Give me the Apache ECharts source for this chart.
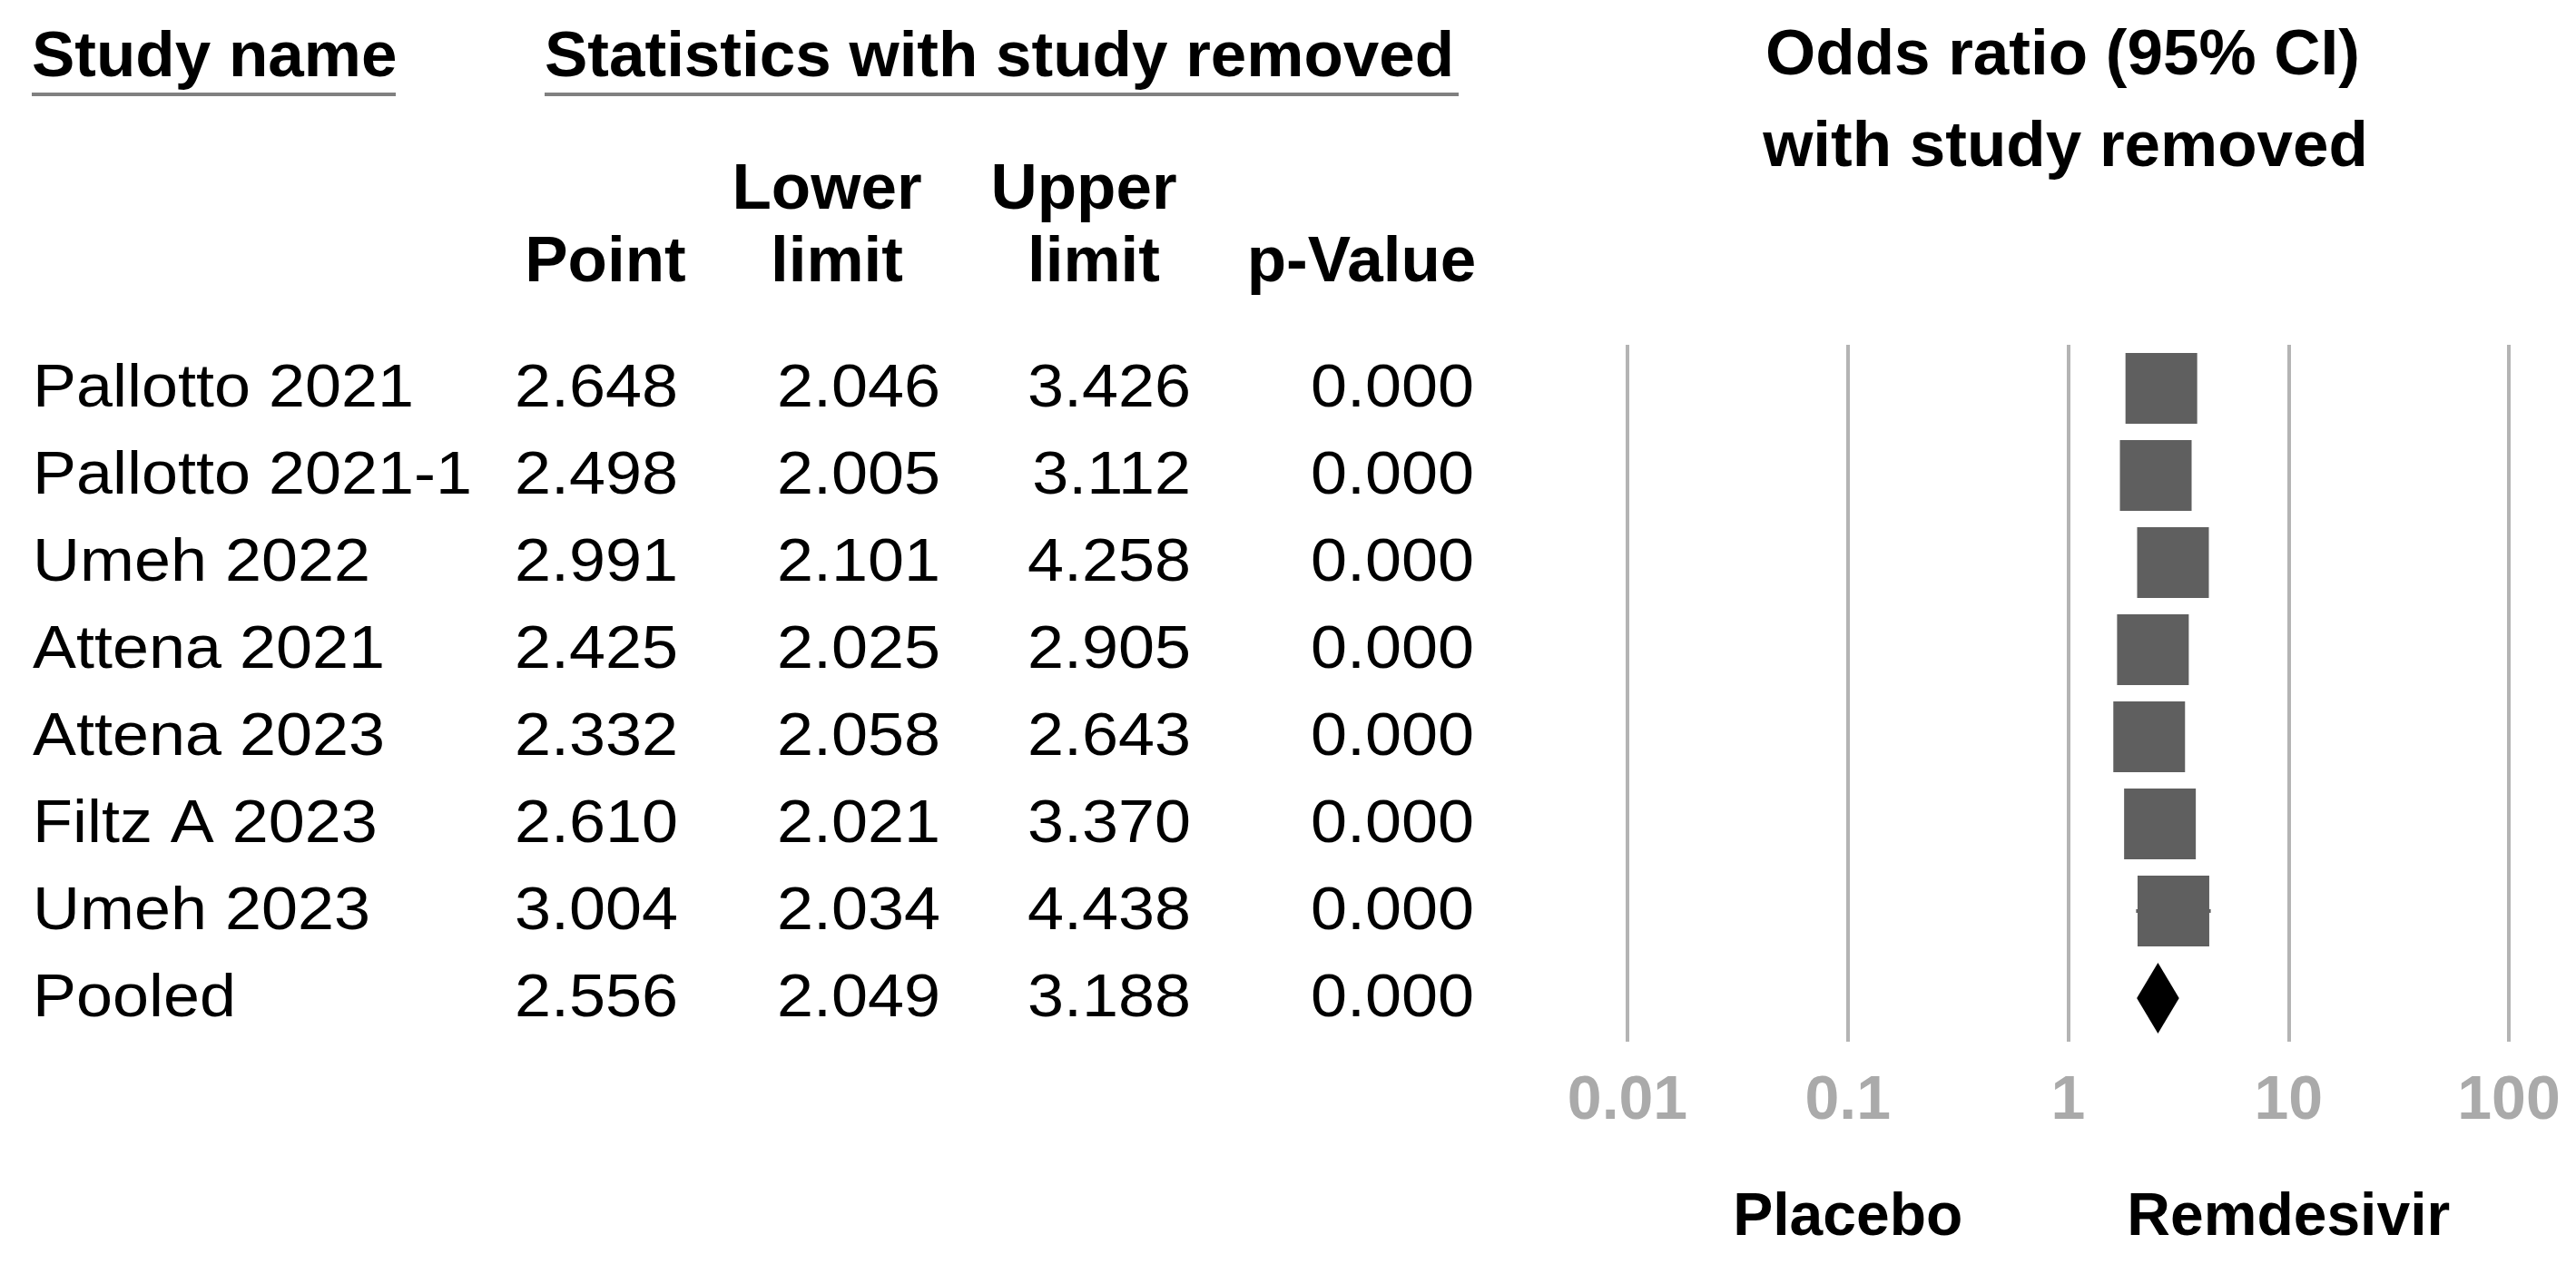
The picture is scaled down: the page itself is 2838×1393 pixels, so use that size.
<!DOCTYPE html>
<html>
<head>
<meta charset="utf-8">
<script src="https://cdn.jsdelivr.net/npm/echarts@6/dist/echarts.min.js"></script>
<style>
  html, body { margin: 0; padding: 0; background: #ffffff; }
  #chart { width: 2838px; height: 1393px; }
</style>
</head>
<body>
<div id="chart"></div>
<script>
// ---------------- data ----------------
const studies = ['Pallotto 2021', 'Pallotto 2021-1', 'Umeh 2022', 'Attena 2021', 'Attena 2023', 'Filtz A 2023', 'Umeh 2023', 'Pooled'];
const pointEst = [2.648, 2.498, 2.991, 2.425, 2.332, 2.610, 3.004, 2.556];
const lowerLimit = [2.046, 2.005, 2.101, 2.025, 2.058, 2.021, 2.034, 2.049];
const upperLimit = [3.426, 3.112, 4.258, 2.905, 2.643, 3.370, 4.438, 3.188];
const pValue = [0.000, 0.000, 0.000, 0.000, 0.000, 0.000, 0.000, 0.000];
const xTickLabels = ['0.01', '0.1', '1', '10', '100'];
const favoursLabels = ['Placebo', 'Remdesivir'];
const favoursAt = [0.1, 10];
const headerTitles = ['Study name', 'Statistics with study removed'];
const plotTitle = ['Odds ratio (95% CI)', 'with study removed'];
const colHeadTop = ['Lower', 'Upper'];
const colHeadBottom = ['Point', 'limit', 'limit', 'p-Value'];

// ---------------- chart ----------------
const FONT = '"Liberation Sans", Arial, Helvetica, sans-serif';
const nRows = studies.length;
const pooledIdx = nRows - 1;

const ciData = [];
const sqData = [];
for (let i = 0; i < pooledIdx; i++) {
  ciData.push([lowerLimit[i], upperLimit[i], i, pointEst[i]]);
  sqData.push([pointEst[i], i]);
}
const diamondData = [[lowerLimit[pooledIdx], upperLimit[pooledIdx], pooledIdx, pointEst[pooledIdx]]];

const chart = echarts.init(document.getElementById('chart'), null, { renderer: 'canvas' });

const option = {
  animation: false,
  backgroundColor: '#ffffff',
  grid: { left: 1793, right: 74, top: 380, height: 768, containLabel: false },
  xAxis: {
    type: 'log',
    logBase: 10,
    min: 0.01,
    max: 100,
    axisLine: { show: false },
    axisTick: { show: false },
    splitLine: { show: true, showMinLine: true, showMaxLine: true, lineStyle: { color: '#b4b4b4', width: 4 } },
    axisLabel: {
      show: true,
      margin: 32,
      color: '#aaaaaa',
      fontSize: 68,
      fontWeight: 'bold',
      fontFamily: FONT,
      formatter: function (v) { return xTickLabels[Math.round(Math.log10(v)) + 2]; }
    }
  },
  yAxis: {
    type: 'value',
    inverse: true,
    min: -0.5,
    max: nRows - 0.5,
    show: false,
    splitLine: { show: false }
  },
  series: [
    {
      type: 'custom',
      name: 'ci',
      data: ciData,
      encode: { x: [0, 1, 3], y: 2 },
      renderItem: function (params, api) {
        const p1 = api.coord([api.value(0), api.value(2)]);
        const p2 = api.coord([api.value(1), api.value(2)]);
        return {
          type: 'line',
          shape: { x1: p1[0], y1: p1[1], x2: p2[0], y2: p2[1] },
          style: { stroke: '#5f5f5f', lineWidth: 4 }
        };
      },
      z: 2
    },
    {
      type: 'scatter',
      name: 'point',
      data: sqData,
      symbol: 'rect',
      symbolSize: [79, 78],
      itemStyle: { color: '#5f5f5f', opacity: 1 },
      z: 3
    },
    {
      type: 'custom',
      name: 'pooled',
      data: diamondData,
      encode: { x: [0, 1, 3], y: 2 },
      renderItem: function (params, api) {
        const lo = api.coord([api.value(0), api.value(2)]);
        const hi = api.coord([api.value(1), api.value(2)]);
        const mid = api.coord([api.value(3), api.value(2)]);
        const h = 39;
        return {
          type: 'polygon',
          shape: { points: [[lo[0], lo[1]], [mid[0], mid[1] - h], [hi[0], hi[1]], [mid[0], mid[1] + h]] },
          style: { fill: '#000000' }
        };
      },
      z: 3
    }
  ]
};

chart.setOption(option);

// ---------------- table text (graphic) ----------------
const graphics = [];
const REG = 66, REG_SX = 1.09, BOLD = 71;
function txt(text, x, y, align, opts) {
  opts = opts || {};
  graphics.push({
    type: 'text',
    x: x, y: y,
    scaleX: opts.scaleX || 1,
    silent: true,
    style: {
      text: text,
      fill: opts.fill || '#000000',
      fontSize: opts.size || REG,
      fontWeight: opts.bold ? 'bold' : 'normal',
      fontFamily: FONT,
      align: align,
      verticalAlign: 'middle'
    }
  });
}
function hline(x1, x2, y) {
  graphics.push({
    type: 'line', silent: true,
    shape: { x1: x1, y1: y, x2: x2, y2: y },
    style: { stroke: '#808080', lineWidth: 4 }
  });
}

// headers
txt(headerTitles[0], 35, 64, 'left', { bold: true, size: BOLD });
hline(35, 436, 104);
txt(headerTitles[1], 600, 64, 'left', { bold: true, size: BOLD });
hline(600, 1607, 104);

txt(colHeadTop[0], 911, 210, 'center', { bold: true, size: BOLD });
txt(colHeadTop[1], 1194, 210, 'center', { bold: true, size: BOLD });
txt(colHeadBottom[0], 667, 290, 'center', { bold: true, size: BOLD });
txt(colHeadBottom[1], 922, 290, 'center', { bold: true, size: BOLD });
txt(colHeadBottom[2], 1205, 290, 'center', { bold: true, size: BOLD });
txt(colHeadBottom[3], 1500, 290, 'center', { bold: true, size: BOLD });

const centerOne = chart.convertToPixel({ xAxisIndex: 0 }, 1);
txt(plotTitle[0], centerOne - 6, 62, 'center', { bold: true, size: BOLD });
txt(plotTitle[1], centerOne - 3, 163, 'center', { bold: true, size: BOLD });

// rows
const colRight = [747, 1036, 1312, 1624];
for (let i = 0; i < nRows; i++) {
  const y = chart.convertToPixel({ yAxisIndex: 0 }, i) + 2;
  txt(studies[i], 36, y, 'left', { scaleX: REG_SX });
  txt(pointEst[i].toFixed(3), colRight[0], y, 'right', { scaleX: REG_SX });
  txt(lowerLimit[i].toFixed(3), colRight[1], y, 'right', { scaleX: REG_SX });
  txt(upperLimit[i].toFixed(3), colRight[2], y, 'right', { scaleX: REG_SX });
  txt(pValue[i].toFixed(3), colRight[3], y, 'right', { scaleX: REG_SX });
}

// favours labels
for (let k = 0; k < favoursLabels.length; k++) {
  const x = chart.convertToPixel({ xAxisIndex: 0 }, favoursAt[k]);
  txt(favoursLabels[k], x, 1343, 'center', { bold: true, size: 66 });
}

chart.setOption({ graphic: { elements: graphics } });
</script>
</body>
</html>
